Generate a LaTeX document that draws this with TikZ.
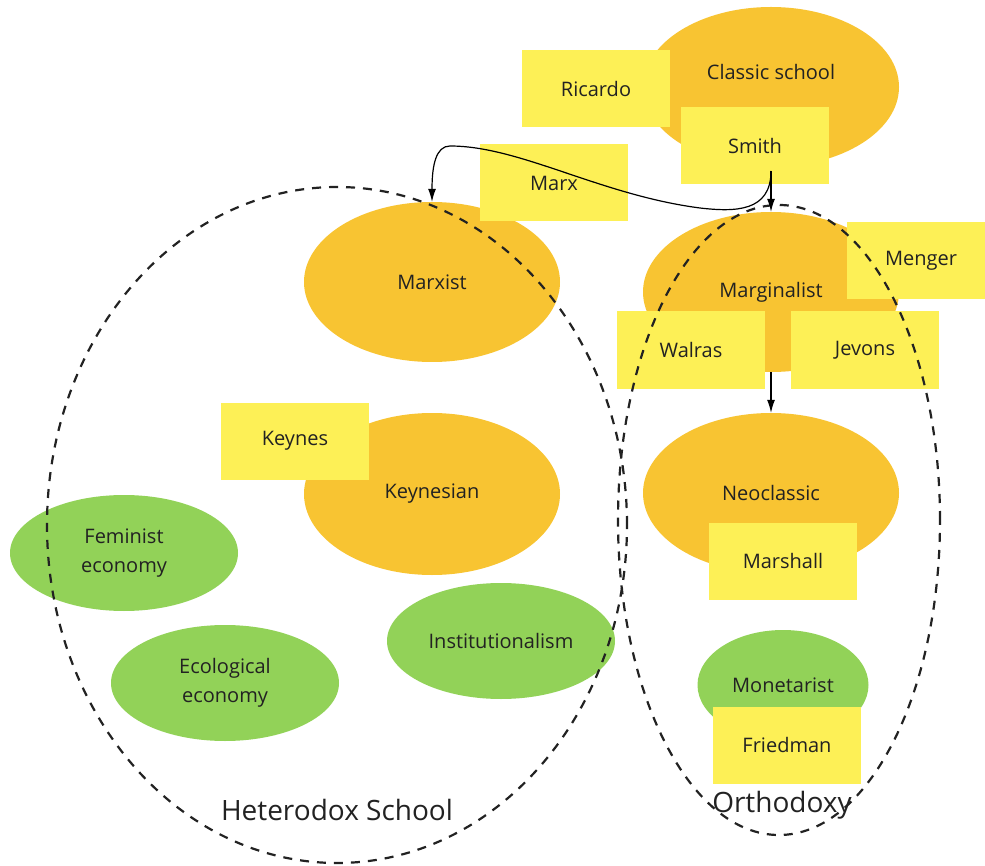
\documentclass[tikz,border=0pt]{standalone}
\usepackage{fontspec}
\setmainfont{Open Sans}
\usepackage{tikz}
\usetikzlibrary{shapes,backgrounds,fit,positioning,arrows.meta}
\definecolor{schoolorange}{RGB}{248,196,50}
\definecolor{schoolgreen}{RGB}{146,210,88}
\definecolor{noteyellow}{RGB}{253,240,86}
\definecolor{inkgray}{RGB}{34,34,34}

\begin{document}
\begin{tikzpicture}[x=1pt,y=-1pt,
  every node/.style={text=inkgray, font=\fontsize{20}{29}\selectfont, align=center},
  school/.style={ellipse, fill=schoolorange, inner sep=0pt, minimum width=256pt, minimum height=160pt},
  branch/.style={ellipse, fill=schoolgreen, inner sep=0pt, minimum width=228pt, minimum height=116pt},
  person/.style={rectangle, fill=noteyellow, inner sep=0pt, minimum width=148pt, minimum height=77pt},
  camp/.style={ellipse, draw=inkgray, line width=2.2pt, dash pattern=on 9pt off 8pt, inner sep=0pt},
  link/.style={draw=black, line width=1.2pt, -{Latex[length=13pt,width=8pt]}}]
\useasboundingbox (0,0) rectangle (985,866);
% schools
\node[school, text depth=30pt] (classic) at (771,87) {Classic school};
\node[school] (marxist) at (432,282) {Marxist};
\node[school] (marginalist) at (771,292) {Marginalist};
\node[school, minimum height=162pt] (keynesian) at (432,494) {Keynesian};
\node[school] (neoclassic) at (771,493) {Neoclassic};
\node[branch] (feminist) at (124,553) {Feminist\\economy};
\node[branch] (institutional) at (501,641) {Institutionalism};
\node[branch] (ecological) at (225,683) {Ecological\\economy};
\node[branch, minimum width=171pt, minimum height=110pt] (monetarist) at (783,685) {Monetarist};
% economists
\node[person] (ricardo) at (596,89) {Ricardo};
\node[person] (smith) at (755,146) {Smith};
\node[person] (marx) at (554,183) {Marx};
\node[person] (menger) at (921,261) {Menger};
\node[person] (walras) at (691,350) {Walras};
\node[person] (jevons) at (865,350) {Jevons};
\node[person] (keynes) at (295,441) {Keynes};
\node[person] (marshall) at (783,561) {Marshall};
\node[person] (friedman) at (787,745) {Friedman};
% camps
\node[camp, minimum width=580pt, minimum height=676pt] (heterodox) at (337,525) {};
\node[camp, minimum width=322pt, minimum height=630pt] (orthodoxy) at (779,520) {};
\node[font=\fontsize{28}{32}\selectfont] (heterodoxlabel) at (337,810) {Heterodox School};
\node[font=\fontsize{28}{32}\selectfont] (orthodoxylabel) at (782,805) {Orthodoxy};
% arrows
\coordinate (smithout) at (771,171);
\path[link] (smithout) -- (marginalist.north);
\path[link] (smithout) .. controls (771,212) and (735,212) .. (700,208)
  .. controls (600,195) and (520,146) .. (450,146)
  .. controls (436,146) and (432,165) .. (marxist.north);
\path[link] (marginalist.south) -- (neoclassic.north);
\end{tikzpicture}
\end{document}
